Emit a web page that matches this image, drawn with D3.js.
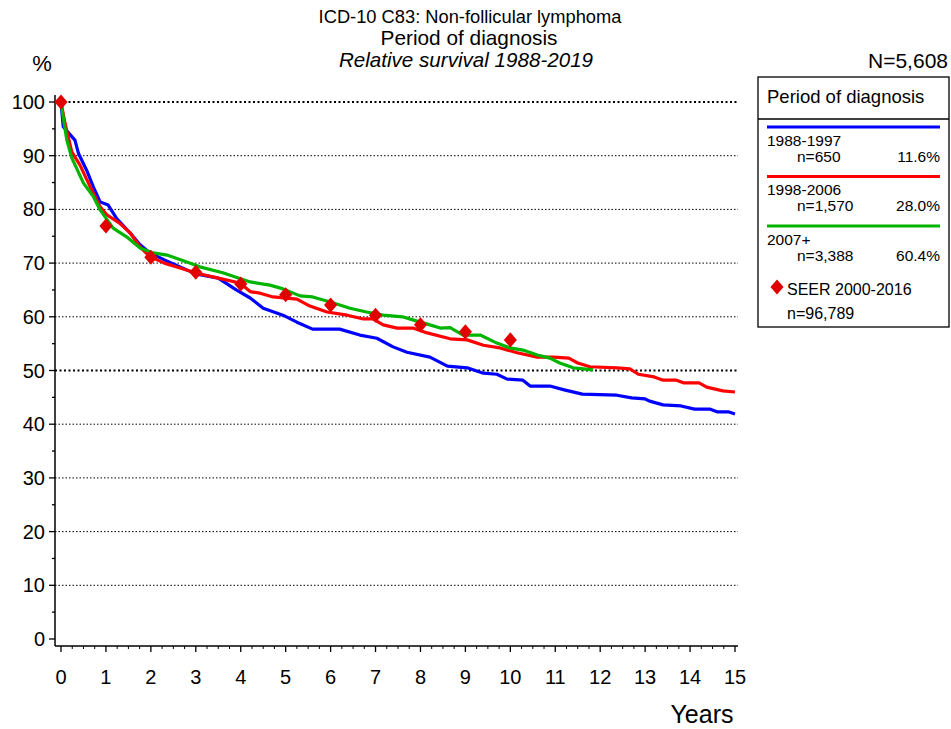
<!DOCTYPE html>
<html>
<head>
<meta charset="utf-8">
<script src="https://cdn.jsdelivr.net/npm/d3@7"></script>
<style>
  body { margin: 0; background: #fff; }
  text { font-family: Arial, "Liberation Sans", sans-serif; fill: #000; }
</style>
</head>
<body>
<svg id="chart" width="951" height="729"></svg>
<script>
// ---- data ----
const BLUE_T = [0,0.05,0.31,0.39,0.57,0.72,0.87,1.05,1.24,1.54,1.76,1.98,2.3,2.65,3.0,3.5,3.9,4.21,4.5,4.94,5.25,5.6,6.2,6.65,7.03,7.39,7.7,8.21,8.6,9.04,9.4,9.7,9.93,10.28,10.44,10.88,11.2,11.6,12.37,12.7,13.0,13.1,13.4,13.8,14.1,14.45,14.6,14.85,15];
const BLUE_V = [100,95.4,92.9,90.4,87.3,84.2,81.4,80.8,78.3,75.6,73.4,71.9,70.6,69.3,68.0,67.2,65.0,63.5,61.6,60.3,59.0,57.7,57.7,56.6,56.0,54.4,53.4,52.5,50.8,50.5,49.5,49.3,48.4,48.2,47.1,47.1,46.4,45.6,45.4,44.9,44.7,44.3,43.6,43.4,42.8,42.8,42.3,42.3,41.9];
const RED_T = [0,0.09,0.24,0.42,0.65,0.87,1.02,1.31,1.54,1.76,1.98,2.3,2.65,3.02,3.5,3.98,4.21,4.43,4.72,5.25,5.54,5.92,6.37,6.73,6.94,7.17,7.48,7.83,8.15,8.66,9.04,9.4,9.77,10.15,10.6,10.96,11.3,11.5,11.77,12.37,12.66,12.85,13.2,13.4,13.7,13.85,14.2,14.37,14.73,15];
const RED_V = [100,96,90.7,88.3,84.2,80.5,79.0,77.4,75.6,73.0,71.2,70.0,69.1,68.1,67.2,66.3,64.7,64.4,63.7,63.3,62.0,60.9,60.3,59.6,59.6,58.5,57.9,57.9,57.0,55.9,55.7,54.7,54.2,53.3,52.5,52.5,52.3,51.4,50.7,50.5,50.3,49.3,48.8,48.2,48.2,47.7,47.7,46.9,46.2,46.0];
const GREEN_T = [0,0.03,0.13,0.24,0.5,0.72,0.87,1.16,1.46,1.76,2.05,2.36,2.8,3.09,3.6,4.21,4.65,4.94,5.32,5.6,6.05,6.43,6.8,7.17,7.6,7.92,8.21,8.44,8.66,8.95,9.33,9.7,9.99,10.28,10.6,10.88,11.1,11.4,11.84];
const GREEN_V = [100,98.2,92.9,89.6,84.9,82.4,79.9,76.5,74.9,72.8,71.9,71.5,70.2,69.3,68.2,66.5,65.9,65.2,63.9,63.7,62.6,61.6,60.9,60.3,60.0,59.2,58.5,57.9,58.0,56.6,56.6,55.1,54.2,53.8,52.9,52.3,51.4,50.5,50.1];
const SEER_T = [0,1,2,3,4,5,6,7,8,9,10];
const SEER_V = [100,76.9,71.1,68.3,66.1,64.1,62.2,60.3,58.5,57.2,55.7];

const SERIES_NAMES = ["1988-1997", "1998-2006", "2007+"];
const SERIES_N = ["n=650", "n=1,570", "n=3,388"];
const SERIES_PCT = ["11.6%", "28.0%", "60.4%"];
const SERIES_COLORS = ["#0000ff", "#ff0000", "#00b400"];
const X_TICKS = d3.range(0, 16);
const Y_TICKS = d3.range(0, 101, 10);

const SEER_COLOR = "#e00000";

// ---- layout ----
const X0 = 61, X1 = 735;
const Y0 = 639, Y1 = 102;
const AXIS_X = 55, AXIS_Y = 646;
const GRID_END = 738;

const svg = d3.select("#chart");
const x = d3.scaleLinear().domain([0, 15]).range([X0, X1]);
const y = d3.scaleLinear().domain([0, 100]).range([Y0, Y1]);

// titles
svg.append("text").attr("x", 470).attr("y", 23).attr("text-anchor", "middle")
    .style("font-size", "18.3px").text("ICD-10 C83: Non-follicular lymphoma");
svg.append("text").attr("x", 469).attr("y", 45).attr("text-anchor", "middle")
    .style("font-size", "20.8px").text("Period of diagnosis");
svg.append("text").attr("x", 466).attr("y", 66.5).attr("text-anchor", "middle")
    .style("font-size", "20.6px").style("font-style", "italic").text("Relative survival 1988-2019");
svg.append("text").attr("x", 948).attr("y", 68).attr("text-anchor", "end")
    .style("font-size", "21px").text("N=5,608");
svg.append("text").attr("x", 42).attr("y", 71).attr("text-anchor", "middle")
    .style("font-size", "22px").text("%");
svg.append("text").attr("x", 702).attr("y", 723).attr("text-anchor", "middle")
    .style("font-size", "25px").text("Years");

// gridlines
svg.append("g").selectAll("line")
    .data(Y_TICKS.filter(d => d > 0))
    .join("line")
    .attr("x1", AXIS_X).attr("x2", GRID_END)
    .attr("y1", d => y(d)).attr("y2", d => y(d))
    .attr("stroke", "#000")
    .attr("stroke-width", d => (d === 100 || d === 50) ? 2 : 1)
    .attr("stroke-dasharray", d => (d === 100 || d === 50) ? "2,2.5" : "1.5,2");

// y axis
const yAxis = svg.append("g").attr("transform", `translate(${AXIS_X},0)`);
yAxis.append("line").attr("y1", 95).attr("y2", AXIS_Y).attr("stroke", "#000").attr("stroke-width", 1.5);
yAxis.selectAll(".maj").data(Y_TICKS).join("line")
    .attr("x1", -6).attr("x2", 0).attr("y1", d => y(d)).attr("y2", d => y(d))
    .attr("stroke", "#000").attr("stroke-width", 1.3);
yAxis.selectAll(".min").data(d3.range(5, 100, 10)).join("line")
    .attr("x1", -3).attr("x2", 0).attr("y1", d => y(d)).attr("y2", d => y(d))
    .attr("stroke", "#000").attr("stroke-width", 1.3);
yAxis.selectAll("text").data(Y_TICKS).join("text")
    .attr("x", -10).attr("y", d => y(d) + 7).attr("text-anchor", "end")
    .style("font-size", "20px").text(d => d);

// x axis
const xAxis = svg.append("g").attr("transform", `translate(0,${AXIS_Y})`);
xAxis.append("line").attr("x1", AXIS_X).attr("x2", GRID_END).attr("stroke", "#000").attr("stroke-width", 1.5);
xAxis.selectAll(".maj").data(X_TICKS).join("line")
    .attr("x1", d => x(d)).attr("x2", d => x(d)).attr("y1", 0).attr("y2", 6)
    .attr("stroke", "#000").attr("stroke-width", 1.3);
xAxis.selectAll(".min").data(d3.range(0, 15, 0.25).filter(d => d % 1 !== 0)).join("line")
    .attr("x1", d => x(d)).attr("x2", d => x(d)).attr("y1", 0).attr("y2", 3)
    .attr("stroke", "#000").attr("stroke-width", 1);
xAxis.selectAll("text").data(X_TICKS).join("text")
    .attr("x", d => x(d)).attr("y", 38).attr("text-anchor", "middle")
    .style("font-size", "20px").text(d => d);

// curves
const line = d3.line().x(d => x(d[0])).y(d => y(d[1]));
const curves = [
    d3.zip(BLUE_T, BLUE_V),
    d3.zip(RED_T, RED_V),
    d3.zip(GREEN_T, GREEN_V)
];
svg.append("g").selectAll("path").data(curves).join("path")
    .attr("d", line)
    .attr("fill", "none")
    .attr("stroke", (d, i) => SERIES_COLORS[i])
    .attr("stroke-width", 3.2)
    .attr("stroke-linejoin", "round");

// SEER diamonds
const diamond = d3.symbol().type(d3.symbolDiamond2).size(110);
svg.append("g").selectAll("path").data(d3.zip(SEER_T, SEER_V)).join("path")
    .attr("transform", d => `translate(${x(d[0])},${y(d[1])}) scale(1,1.15)`)
    .attr("d", diamond)
    .attr("fill", SEER_COLOR);

// legend
const legend = svg.append("g");
legend.append("rect").attr("x", 758).attr("y", 77).attr("width", 191).attr("height", 250)
    .attr("fill", "none").attr("stroke", "#000").attr("stroke-width", 1.3);
legend.append("line").attr("x1", 758).attr("x2", 949).attr("y1", 119).attr("y2", 119)
    .attr("stroke", "#000").attr("stroke-width", 1.3);
legend.append("text").attr("x", 767).attr("y", 103).style("font-size", "18.5px").text("Period of diagnosis");

SERIES_NAMES.forEach((name, i) => {
    const top = 127 + i * 49.5;
    legend.append("line").attr("x1", 767).attr("x2", 940).attr("y1", top).attr("y2", top)
        .attr("stroke", SERIES_COLORS[i]).attr("stroke-width", 3);
    legend.append("text").attr("x", 767).attr("y", top + 18.5).style("font-size", "15.5px").text(name);
    legend.append("text").attr("x", 797).attr("y", top + 34.5).style("font-size", "15.5px").text(SERIES_N[i]);
    legend.append("text").attr("x", 940).attr("y", top + 34.5).attr("text-anchor", "end")
        .style("font-size", "15.5px").text(SERIES_PCT[i]);
});
legend.append("path")
    .attr("transform", "translate(777,287) scale(1,1.15)")
    .attr("d", diamond).attr("fill", SEER_COLOR);
legend.append("text").attr("x", 787).attr("y", 295).style("font-size", "16px").text("SEER 2000-2016");
legend.append("text").attr("x", 787).attr("y", 319).style("font-size", "16px").text("n=96,789");
</script>
</body>
</html>
